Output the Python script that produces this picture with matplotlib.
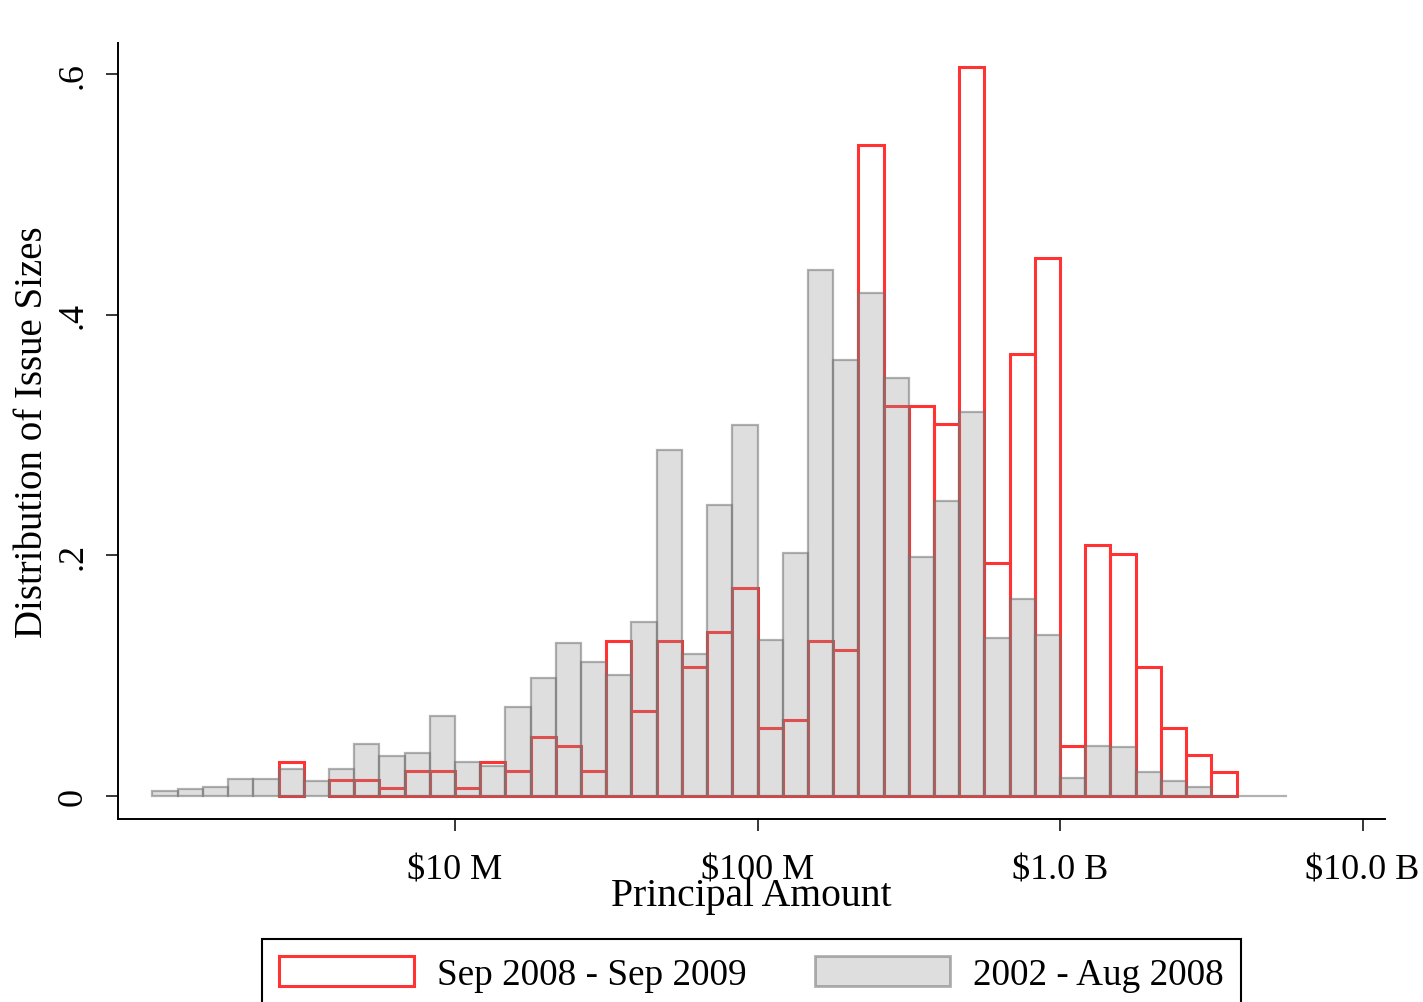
import numpy as np
import matplotlib
matplotlib.use("Agg")
import matplotlib.pyplot as plt
from matplotlib.patches import Patch

plt.rcParams['font.family'] = ['Liberation Serif', 'DejaVu Serif']

# ---- data (density per ln($M) unit, bins of width ln(10)/12 starting at $1M) ----
bin_start_ln = 0.0
bin_width = np.log(10) / 12
crisis_label = "Sep 2008 - Sep 2009"
pre_label = "2002 - Aug 2008"

crisis = [0, 0, 0, 0, 0, 0.028, 0, 0.0133, 0.0133, 0.0064,
          0.0208, 0.0208, 0.0064, 0.028, 0.0205, 0.0493, 0.0418, 0.0205, 0.129, 0.0709,
          0.129, 0.107, 0.1365, 0.1726, 0.0565, 0.0632, 0.129, 0.121, 0.541, 0.3238,
          0.3238, 0.309, 0.606, 0.1936, 0.3673, 0.4468, 0.0418, 0.2086, 0.201, 0.1075,
          0.0562, 0.0343, 0.0202, 0, 0]

pre = [0.0044, 0.0056, 0.0077, 0.0139, 0.0139, 0.0224, 0.0122, 0.0222, 0.0432, 0.033,
       0.0355, 0.0668, 0.0285, 0.0252, 0.0742, 0.098, 0.127, 0.1116, 0.1006, 0.1446,
       0.2875, 0.118, 0.2418, 0.3086, 0.130, 0.2017, 0.437, 0.362, 0.4177, 0.347,
       0.1983, 0.2454, 0.3194, 0.1313, 0.1637, 0.1338, 0.015, 0.0418, 0.0405, 0.0202,
       0.0122, 0.0072, 0, 0, 0]

xtick_values_musd = [10, 100, 1000, 10000]
xtick_labels = ["$10 M", "$100 M", "$1.0 B", "$10.0 B"]
ytick_values = [0, 0.2, 0.4, 0.6]
ytick_labels = ["0", ".2", ".4", ".6"]

# ---- figure ----
W, H = 1423, 1003
fig = plt.figure(figsize=(W / 100, H / 100), dpi=100)
ax = fig.add_axes([118 / W, (H - 820) / H, (1385 - 118) / W, (820 - 44) / H])

crisis = np.array(crisis)
pre = np.array(pre)
left = bin_start_ln + np.arange(len(pre)) * bin_width

red = '#ff3333'
gray_face = (0.573, 0.573, 0.573, 0.30)
gray_edge = (0.443, 0.443, 0.443, 0.55)

m = crisis > 0
ax.bar(left[m], crisis[m], width=bin_width, align='edge', facecolor='none',
       edgecolor=red, linewidth=2.2, zorder=2)
ax.bar(left, pre, width=bin_width, align='edge', facecolor=gray_face,
       edgecolor=gray_edge, linewidth=1.6, zorder=3)

ax.set_xlim(-0.2625, 9.381)
ax.set_ylim(-0.0191, 0.6258)

for s in ['top', 'right']:
    ax.spines[s].set_visible(False)
for s in ['left', 'bottom']:
    ax.spines[s].set_linewidth(1.4)

ax.set_xticks(np.log(xtick_values_musd), xtick_labels)
ax.set_yticks(ytick_values, ytick_labels, rotation=90, va='center')
ax.tick_params(axis='both', direction='out', length=8.6, width=1.1, labelsize=26, colors='black')
ax.tick_params(axis='x', pad=16.5)
ax.tick_params(axis='y', pad=12)

ax.set_xlabel("Principal Amount", fontsize=28.5, va='center')
ax.xaxis.set_label_coords(0.5, (820 - 897) / 776)
ax.set_ylabel("Distribution of Issue Sizes", fontsize=28, va='center')
ax.yaxis.set_label_coords((33 - 118) / 1267, 0.5)

fs_leg = 26.8
px = fs_leg * 100 / 72
handles = [Patch(facecolor='white', edgecolor=red, linewidth=2.2),
           Patch(facecolor=gray_face, edgecolor=gray_edge, linewidth=2.0)]
leg = fig.legend(handles, [crisis_label, pre_label], ncol=2, loc='upper center',
                 bbox_to_anchor=(751.5 / W, 1 - 940 / H), bbox_transform=fig.transFigure,
                 frameon=True, fancybox=False, edgecolor='black', fontsize=fs_leg,
                 handlelength=135 / px, handleheight=33 / px, handletextpad=23 / px,
                 columnspacing=69 / px, borderpad=0.45, borderaxespad=0)
leg.get_frame().set_linewidth(1.5)
leg.get_frame().set_alpha(1)

fig.savefig("out.png", dpi=100)
